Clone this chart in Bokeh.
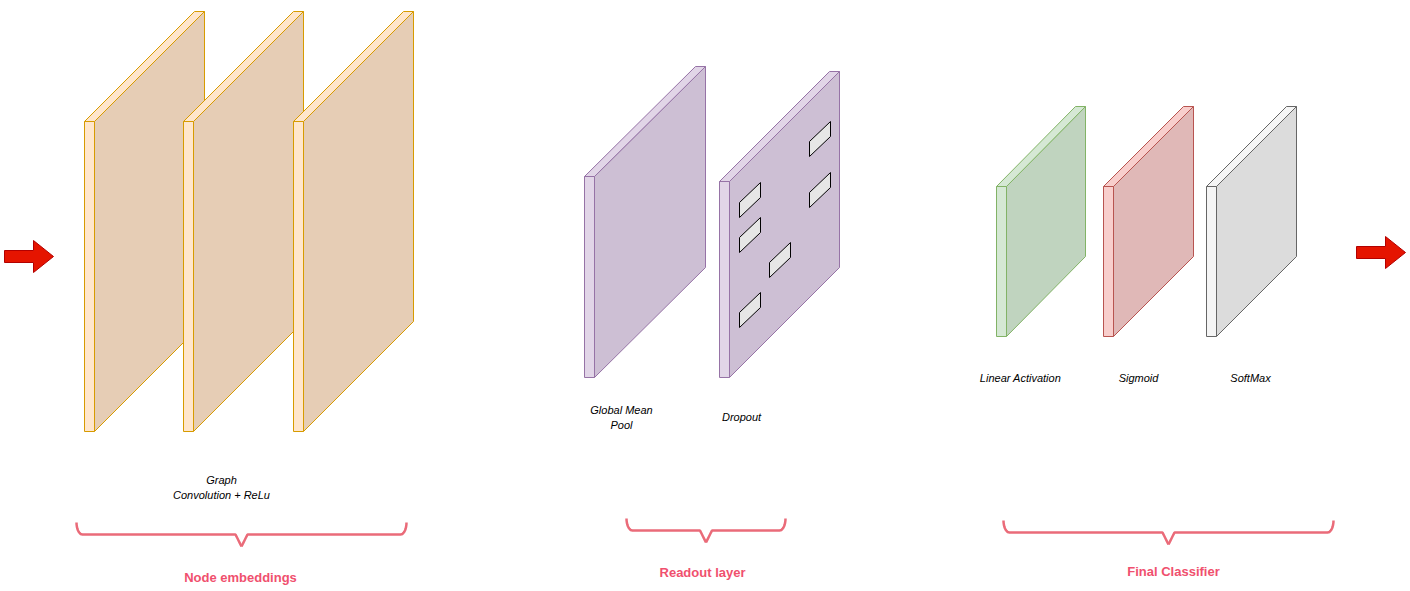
from bokeh.plotting import figure
from bokeh.models import Range1d
from bokeh.core.properties import value
from bokeh.embed import file_html
from bokeh.resources import INLINE
import numpy as np

# slab layers: front strip left x, top y, bottom y, depth dx, dy
slab_x = [84, 183, 293, 584, 719, 996, 1103, 1206]
slab_top = [121, 121, 121, 176, 181, 186, 186, 186]
slab_bot = [431, 431, 431, 377, 377, 336, 336, 336]
slab_dx = [110, 110, 110, 111, 110, 79, 80, 80]
slab_dy = [110, 110, 110, 110, 110, 80, 80, 80]
slab_face = ["#e6cdb5"] * 3 + ["#cdbfd4"] * 2 + ["#c0d4bf", "#e0b8b7", "#dcdcdc"]
slab_strip = ["#ffe6cc"] * 3 + ["#e1d5e7"] * 2 + ["#d5e8d4", "#f8cecc", "#f5f5f5"]
slab_edge = ["#d79b00"] * 3 + ["#9673a6"] * 2 + ["#82b366", "#b85450", "#666666"]
strip_w = 10

# dropout cells (left-side top-left x, y)
drop_x = [739, 739, 769, 739, 809, 809]
drop_y = [202, 237, 262, 312, 141, 192]

labels = ["Graph", "Convolution + ReLu", "Global Mean", "Pool", "Dropout",
          "Linear Activation", "Sigmoid", "SoftMax"]
label_x = [221, 221, 621, 621, 741, 1020, 1138, 1250]
label_y = [479, 494, 409, 424, 416, 377, 377, 377]

groups = ["Node embeddings", "Readout layer", "Final Classifier"]
group_x = [240, 702, 1173]
group_y = [577, 572, 571]
brace_x0 = [76, 626, 1003]
brace_x1 = [406, 785, 1333]
brace_top = [522, 518, 520]

p = figure(width=1410, height=591, output_backend="svg", toolbar_location=None,
           x_range=Range1d(0, 1410), y_range=Range1d(591, 0), min_border=0)
p.axis.visible = False
p.grid.visible = False
p.outline_line_color = None

for x, t, b, dx, dy, fc, sc, ec in zip(slab_x, slab_top, slab_bot, slab_dx, slab_dy,
                                      slab_face, slab_strip, slab_edge):
    xf = x + strip_w
    p.patch([xf, xf + dx, xf + dx, xf], [t, t - dy, b - dy, b], fill_color=fc, line_color=ec, line_width=1)
    p.patch([x, xf, xf + dx, x + dx], [t, t, t - dy, t - dy], fill_color=sc, line_color=ec, line_width=1)
    p.patch([x, xf, xf, x], [t, t, b, b], fill_color=sc, line_color=ec, line_width=1)

for x, y in zip(drop_x, drop_y):
    p.patch([x, x + 21, x + 21, x], [y, y - 20, y - 5, y + 15], fill_color="#e6e6e6",
            line_color="#000000", line_width=1)

# arrows
for ax, ay in [(4, 256), (1356, 252)]:
    p.patch([ax, ax + 29, ax + 29, ax + 49, ax + 29, ax + 29, ax],
            [ay - 6, ay - 6, ay - 16, ay, ay + 16, ay + 6, ay + 6],
            fill_color="#e51400", line_color="#b20000", line_width=1)

def brace_half(xa, m, y0, h=24, r=6):
    s = 1 if m > xa else -1
    ym = y0 + h / 2
    t = np.linspace(0, np.pi / 2, 10)
    xs = list(xa + s * r * (1 - np.cos(t)))
    ys = list(y0 + (ym - y0) * np.sin(t))
    xs += list(m - s * r * np.cos(t))
    ys += list(ym + (h / 2) * (1 - np.cos(t)))
    return xs, ys

for x0, x1, y0 in zip(brace_x0, brace_x1, brace_top):
    m = (x0 + x1) / 2
    for xa in (x0, x1):
        bx, by = brace_half(xa, m, y0)
        p.line(bx, by, line_color="#ea6b79", line_width=2.5)

p.text(label_x, label_y, text=labels, text_font=value("Liberation Sans"), text_font_style="italic",
       text_font_size="11px", text_align="center", text_baseline="middle", text_color="#000000")
p.text(group_x, group_y, text=groups, text_font=value("Liberation Sans"), text_font_style="bold",
       text_font_size="13px", text_align="center", text_baseline="middle", text_color="#f0506e")

open("out.html", "w").write(file_html(p, INLINE))
